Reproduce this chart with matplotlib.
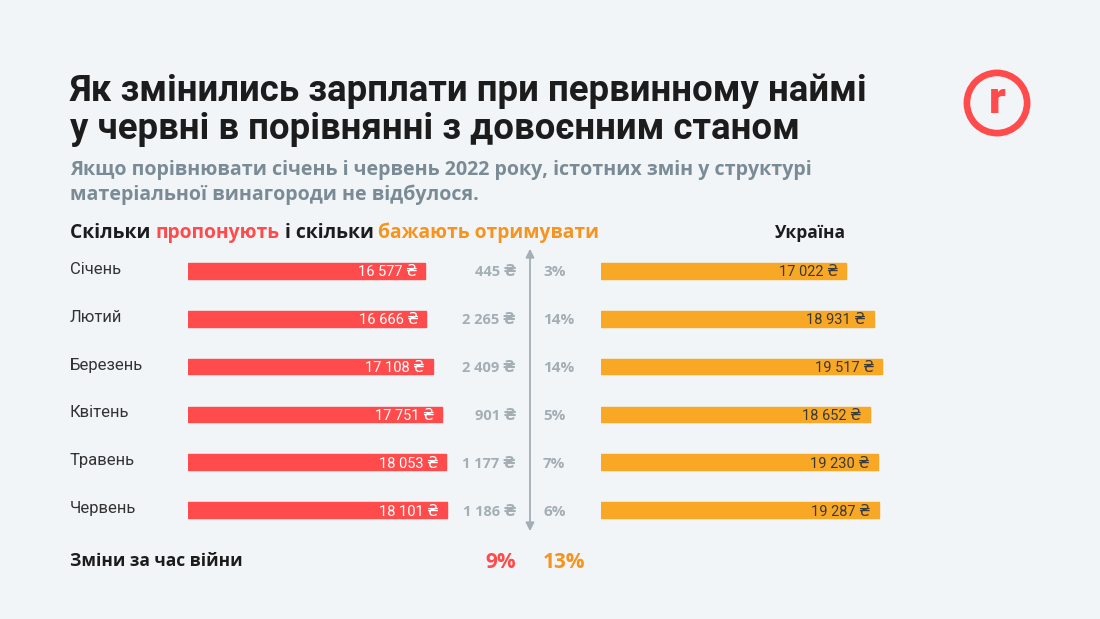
import matplotlib
matplotlib.use('Agg')
import matplotlib.pyplot as plt
from matplotlib.patches import Circle, FancyArrowPatch

months = ['Січень', 'Лютий', 'Березень', 'Квітень', 'Травень', 'Червень']
offered = [16577, 16666, 17108, 17751, 18053, 18101]
wanted = [17022, 18931, 19517, 18652, 19230, 19287]
gap = [445, 2265, 2409, 901, 1177, 1186]
gap_pct = ['3%', '14%', '14%', '5%', '7%', '6%']
total_offered = '9%'
total_wanted = '13%'

RED = '#ff4b4b'
ORANGE = '#f9a825'
ORANGE_TXT = '#f7941d'
GREY = '#a3aeb5'
BG = '#f1f5f8'
DARK = '#1c1c1c'
BODY = ['Open Sans', 'DejaVu Sans']

plt.rcParams['font.family'] = ['Roboto', 'DejaVu Sans']

W, H = 1100, 619
fig = plt.figure(figsize=(11, 6.19), dpi=100, facecolor=BG)


def fx(px):
    return px / W


def fy(py):
    return 1 - py / H


def fmt(v):
    return f'{v:,}'.replace(',', ' ') + ' ₴'


# bar axes: 288 px for 0..20000, rows 47.8 px apart
top, bottom = 247, 534
red_ax = fig.add_axes([fx(188), fy(bottom), fx(286), (bottom - top) / H])
org_ax = fig.add_axes([fx(601), fy(bottom), fx(288), (bottom - top) / H])
rows = list(range(len(months)))
for ax, vals, col, tcol in [(red_ax, offered, RED, 'white'),
                            (org_ax, wanted, ORANGE, '#3a3a3a')]:
    ax.set_xlim(0, 20000)
    ax.set_ylim(5.5, -0.5)
    ax.axis('off')
    bars = ax.barh(rows, vals, height=0.33, color=col, edgecolor=col, lw=1)
    for b in bars:
        b.set_joinstyle('round')
    for r, v in zip(rows, vals):
        ax.text(v - 550, r + 0.03, fmt(v), ha='right', va='center',
                color=tcol, fontsize=10.5)

# month names, gaps and percentages
for r, m, g, p in zip(rows, months, gap, gap_pct):
    red_ax.annotate(m, xy=(fx(70), r - 0.03), xycoords=('figure fraction', 'data'),
                    ha='left', va='center', fontsize=12, color='#333333')
    red_ax.annotate(fmt(g), xy=(fx(516), r + 0.03),
                    xycoords=('figure fraction', 'data'),
                    ha='right', va='center', fontsize=10.5,
                    color=GREY, fontweight='bold', family=BODY)
    red_ax.annotate(p, xy=(fx(543), r + 0.03),
                    xycoords=('figure fraction', 'data'),
                    ha='left', va='center', fontsize=11,
                    color=GREY, fontweight='bold', family=BODY)

# double arrow
fig.add_artist(FancyArrowPatch(
    (fx(530), fy(534)), (fx(530), fy(246)), transform=fig.transFigure,
    arrowstyle='<|-|>,head_length=5,head_width=2.5', color=GREY, lw=1.3))

# title and subtitle
fig.text(fx(70), fy(101), 'Як змінились зарплати при первинному наймі',
         fontsize=26.3, fontweight='bold', color=DARK)
fig.text(fx(70), fy(139), 'у червні в порівнянні з довоєнним станом',
         fontsize=26.3, fontweight='bold', color=DARK)
fig.text(fx(70), fy(175), 'Якщо порівнювати січень і червень 2022 року, істотних змін у структурі',
         fontsize=14.1, fontweight='bold', color='#7b8b95', family=BODY)
fig.text(fx(70), fy(200), 'матеріальної винагороди не відбулося.',
         fontsize=14.1, fontweight='bold', color='#7b8b95', family=BODY)

# header with coloured words
fig.canvas.draw()
renderer = fig.canvas.get_renderer()
x = 70
for piece, col in [('Скільки ', DARK), ('пропонують', RED),
                   (' і скільки ', DARK), ('бажають отримувати', ORANGE_TXT)]:
    t = fig.text(fx(x), fy(238), piece, fontsize=13.9, fontweight='bold',
                 color=col, family=BODY)
    x = t.get_window_extent(renderer).x1
fig.text(fx(775), fy(238), 'Україна', fontsize=12.5, fontweight='bold',
         color=DARK, family=BODY)

# footer
fig.text(fx(70), fy(566), 'Зміни за час війни', fontsize=12.5, fontweight='bold',
         color=DARK, family=BODY)
fig.text(fx(516), fy(568), total_offered, ha='right', fontsize=15,
         fontweight='bold', color=RED, family=BODY)
fig.text(fx(543), fy(568), total_wanted, ha='left', fontsize=15,
         fontweight='bold', color=ORANGE_TXT, family=BODY)

# logo
logo = fig.add_axes([fx(962), fy(138), fx(70), 70 / H])
logo.set_xlim(-1, 1)
logo.set_ylim(-1, 1)
logo.set_aspect('equal')
logo.axis('off')
logo.add_patch(Circle((0, 0), 0.86, fill=False, ec=RED, lw=4.8))
logo.text(0.02, 0.05, 'r', ha='center', va='center', fontsize=32,
          fontweight='black', color=RED)

fig.savefig('out.png', dpi=100, facecolor=BG)
